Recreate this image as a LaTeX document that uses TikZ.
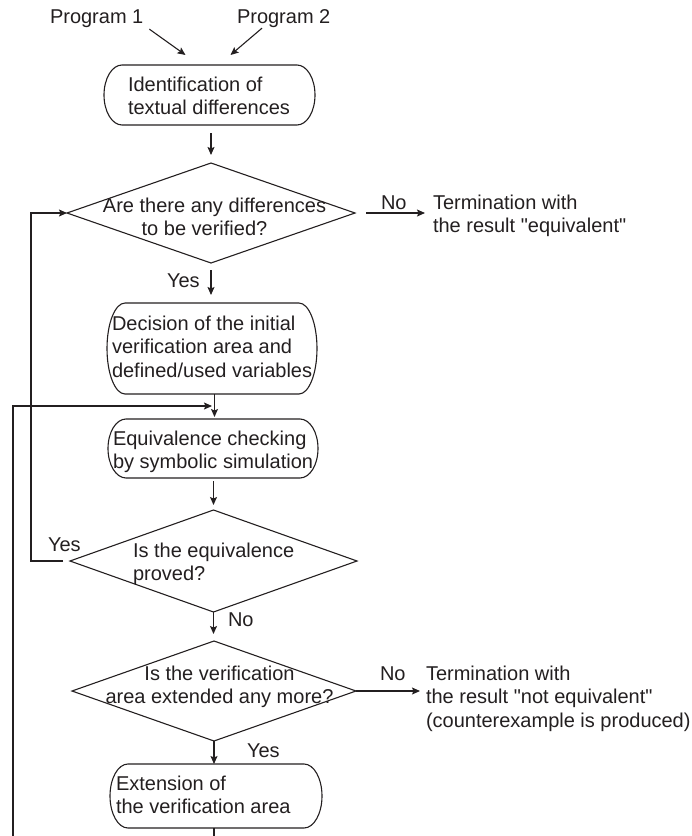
\documentclass[tikz,border=0pt]{standalone}
\usepackage{fontspec}
\setmainfont{Liberation Sans}[Ligatures=TeXOff]
\usetikzlibrary{shapes.geometric,arrows.meta,calc}
\definecolor{ink}{RGB}{35,31,32}

% outline of a process box: straight top/bottom, elliptic bulging ends
\newcommand\pilloutline[2]{%
  \draw[ln] let \p1=(#1.north east), \p2=(#1.south west), \n1={(\y1-\y2)/2} in
    (\x2+#2pt,\y1) -- (\x1-#2pt,\y1)
    arc[start angle=90,end angle=-90,x radius=#2pt,y radius=\n1]
    -- (\x2+#2pt,\y2)
    arc[start angle=270,end angle=90,x radius=#2pt,y radius=\n1] -- cycle;}

\begin{document}
\begin{tikzpicture}[x=1pt,y=1pt,
  ln/.style={draw=ink,line width=1.1pt},
  arr/.style={ln,-{Stealth[length=8pt,width=7pt,inset=1.5pt]}},
  % multi-line texts are placed by the baseline of their last line
  txt/.style={font=\fontsize{20}{23.5}\selectfont,text=ink,inner sep=0pt,
              outer sep=0pt,align=left,anchor=base west},
  ctxt/.style={txt,align=center,anchor=base},
  proc/.style={inner sep=0pt,outer sep=0pt},
  decision/.style={diamond,draw=ink,line width=1.1pt,inner sep=0pt,outer sep=0pt}]

\useasboundingbox (0,0) rectangle (692,-836);

% inputs
\node[txt] (p1) at (50,-23) {Program 1};
\node[txt] (p2) at (237,-23) {Program 2};

% process boxes
\node[proc,minimum width=211,minimum height=60] (b1) at (209.5,-95) {};
\node[proc,minimum width=210,minimum height=91] (b2) at (212,-348.5) {};
\node[proc,minimum width=210,minimum height=59] (b3) at (213,-448.5) {};
\node[proc,minimum width=212,minimum height=64] (b4) at (216,-796) {};
\pilloutline{b1}{18}
\pilloutline{b2}{18}
\pilloutline{b3}{18}
\pilloutline{b4}{18}
\node[txt] (b1t) at (128,-114.5) {Identification of\\textual differences};
\node[txt] (b2t) at (112,-377) {Decision of the initial\\verification area and\\defined/used variables};
\node[txt] (b3t) at (113,-468.5) {Equivalence checking\\by symbolic simulation};
\node[txt] (b4t) at (116,-813.5) {Extension of\\the verification area};

% decisions
\node[decision,minimum width=288,minimum height=100] (d1) at (211,-213) {};
\node[decision,minimum width=287,minimum height=102] (d2) at (213.5,-561) {};
\node[decision,minimum width=284,minimum height=100] (d3) at (214,-691) {};
\node[ctxt] (d1t) at (214.5,-235.5) {Are there any differences\\to be verified?\hspace*{20pt}};
\node[txt] (d2t) at (133,-580.5) {Is the equivalence\\proved?};
\node[ctxt] (d3t) at (219.5,-703.5) {Is the verification\\area extended any more?};

% terminations
\node[txt] (t1) at (433,-232.5) {Termination with\\the result "equivalent"};
\node[txt] (t3) at (426,-727) {Termination with\\the result "not equivalent"\\(counterexample is produced)};

% branch labels
\node[txt] (no1) at (381,-209) {No};
\node[txt] (yes1) at (167,-287) {Yes};
\node[txt] (yes2) at (48,-551) {Yes};
\node[txt] (no2) at (228,-626) {No};
\node[txt] (no3) at (380,-680) {No};
\node[txt] (yes3) at (247,-757) {Yes};

% helper coordinates for the loop lines
\coordinate (j) at (214.5,-406);
\coordinate (fbx) at (31,0);
\coordinate (loopx) at (13,0);
\coordinate (bottom) at (0,-836);

% main flow
\draw[arr] ($(p1.south east)+(6,-2)$) -- ($(b1.north)+(-24,10)$);
\draw[arr] ($(p2.south west)+(25,-1)$) -- ($(b1.north)+(21,10)$);
\draw[arr] ($(b1.south -| d1.north)+(0,-8)$) -- ($(d1.north)+(0,8)$);
\draw[arr] ($(d1.south)+(0,-7)$) -- ($(b2.north -| d1.south)+(0,8)$);
\draw[arr] (b2.south -| j) -- ($(b3.north -| j)+(0,2)$);
\draw[arr] ($(b3.south -| d2.north)+(0,-3)$) -- ($(d2.north)+(0,5)$);
\draw[arr] (d2.south) -- ($(d3.north -| d2.south)+(0,7)$);
\draw[arr] (d3.south) -- (b4.north -| d3.south);
\draw[ln] (b4.south -| d3.south) -- (bottom -| d3.south);

% exits
\draw[arr] ($(d1.east)+(11,0)$) -- ($(t1.west |- d1.east)+(-8,0)$);
\draw[arr] (d3.east) -- ($(t3.west |- d3.east)+(-6,0)$);

% feedback loops
\draw[arr] ($(d2.west)+(-7,0)$) -- (d2.west -| fbx) -- (d1.west -| fbx) -- (d1.west);
\draw[arr] (bottom -| loopx) |- ($(j)+(-2.5,0)$);

\end{tikzpicture}
\end{document}
